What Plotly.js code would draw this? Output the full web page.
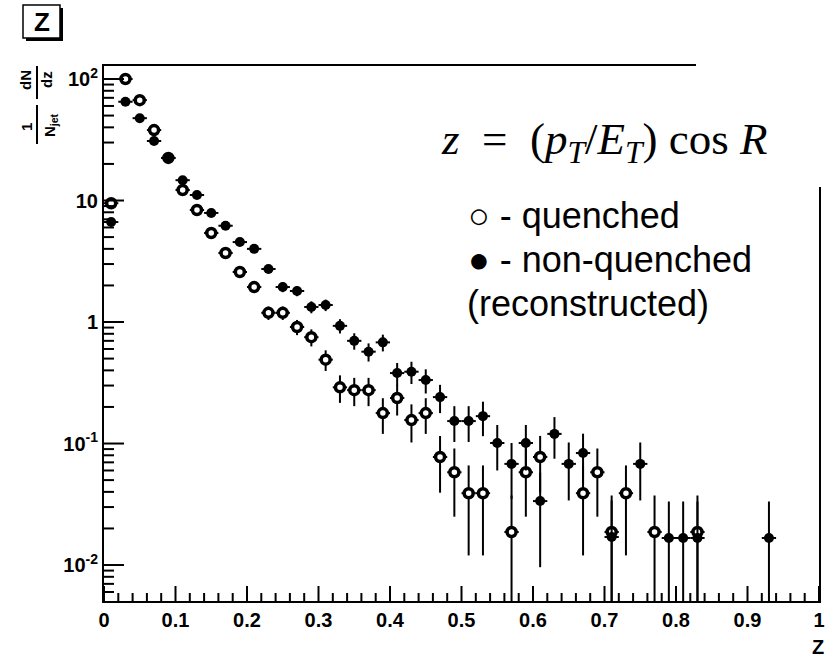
<!DOCTYPE html>
<html>
<head>
<meta charset="utf-8">
<script src="https://cdn.plot.ly/plotly-3.0.1.min.js"></script>
<style>html,body{margin:0;padding:0;background:#fff;}#chart{width:833px;height:658px;}</style>
</head>
<body>
<div id="chart"></div>
<script>
// ---- data (bin centres of z, value of 1/N dN/dz, error) ----
const quenchedZ   = [0.01,0.03,0.05,0.07,0.09,0.11,0.13,0.15,0.17,0.19,0.21,0.23,0.25,0.27,0.29,0.31,0.33,0.35,0.37,0.39,0.41,0.43,0.45,0.47,0.49,0.51,0.53,0.57,0.59,0.61,0.67,0.69,0.71,0.73,0.77,0.83];
const quenchedVal = [9.5,100,67,38,22.4,12.2,8.35,5.4,3.7,2.58,1.94,1.19,1.19,0.91,0.75,0.49,0.29,0.275,0.275,0.178,0.237,0.156,0.178,0.0774,0.058,0.039,0.039,0.0187,0.058,0.0775,0.039,0.058,0.0187,0.039,0.0187,0.0187];
const quenchedErr = [0.42,1.37,1.12,0.84,0.65,0.48,0.39,0.32,0.26,0.22,0.19,0.15,0.15,0.13,0.12,0.095,0.074,0.072,0.072,0.058,0.067,0.054,0.058,0.038,0.033,0.027,0.027,0.0187,0.033,0.038,0.027,0.033,0.0187,0.027,0.0187,0.0187];

const nonQuenchedZ   = [0.01,0.03,0.05,0.07,0.09,0.11,0.13,0.15,0.17,0.19,0.21,0.23,0.25,0.27,0.29,0.31,0.33,0.35,0.37,0.39,0.41,0.43,0.45,0.47,0.49,0.51,0.53,0.55,0.57,0.59,0.61,0.63,0.65,0.67,0.71,0.75,0.79,0.81,0.83,0.93];
const nonQuenchedVal = [6.65,65,47.6,30.9,22.4,14.7,11.1,7.9,6.2,4.55,4.0,2.73,1.94,1.80,1.33,1.38,0.93,0.70,0.57,0.68,0.38,0.39,0.333,0.241,0.153,0.153,0.168,0.101,0.068,0.101,0.0336,0.12,0.068,0.0835,0.017,0.068,0.0167,0.0167,0.0167,0.0167];
const nonQuenchedErr = [0.33,1.04,0.89,0.72,0.61,0.50,0.43,0.36,0.32,0.28,0.26,0.21,0.18,0.17,0.15,0.15,0.125,0.108,0.097,0.107,0.08,0.081,0.075,0.063,0.05,0.05,0.053,0.041,0.033,0.041,0.024,0.045,0.034,0.037,0.017,0.034,0.0167,0.0167,0.0167,0.0167];

const halfBin = 0.01;
const xTickVals = [0,0.1,0.2,0.3,0.4,0.5,0.6,0.7,0.8,0.9,1];
const xTickLabels = ['0','0.1','0.2','0.3','0.4','0.5','0.6','0.7','0.8','0.9','1'];
const yTickVals = [0.01,0.1,1,10,100];
const yTickText = ['10<sup>-2</sup>','10<sup>-1</sup>','1','10','10<sup>2</sup>'];

// ---- geometry of the plot area (pixels) ----
const W = 833, H = 658;
const M = {l:104, r:14, t:66, b:57};
const PW = W - M.l - M.r, PH = H - M.t - M.b;
const px = p => (p - M.l) / PW;          // pixel x -> paper x
const py = p => (M.t + PH - p) / PH;     // pixel y -> paper y

const yRange = [-2.296, 2.107];
const pxPerDecade = PH / (yRange[1] - yRange[0]);
const yBottom = Math.pow(10, yRange[0]);

// minor tick positions (axis decoration only)
const minorX = [];
for (let i = 1; i < 50; i++) if (i % 5 !== 0) minorX.push(i / 50);
const minorY = [];
for (let e = -3; e <= 2; e++) for (let d = 2; d <= 9; d++) {
  const v = d * Math.pow(10, e);
  if (Math.log10(v) > yRange[0] && Math.log10(v) < yRange[1]) minorY.push(v);
}

const errStyle = {color:'#000', thickness:2, width:0};
const tickFont = {family:'Liberation Sans, Arial, sans-serif', size:20, color:'#000', weight:'bold'};
const sans = 'Liberation Sans, Arial, sans-serif';

// inside tick marks of the frame, drawn as one-sided bars of L pixels
function xTicks(vals, L) {
  const pct = (Math.pow(10, L / pxPerDecade) - 1) * 100;
  return {x:vals, y:vals.map(() => yBottom), type:'scatter', mode:'markers', cliponaxis:false, showlegend:false, hoverinfo:'skip',
          marker:{size:1, opacity:0},
          error_y:{type:'percent', value:pct, valueminus:0, symmetric:false, visible:true, color:'#000', thickness:2, width:0}};
}
function yTicks(vals, L) {
  return {x:vals.map(() => 0), y:vals, type:'scatter', mode:'markers', cliponaxis:false, showlegend:false, hoverinfo:'skip',
          marker:{size:1, opacity:0},
          error_x:{type:'constant', value:L / PW, valueminus:0, symmetric:false, visible:true, color:'#000', thickness:2, width:0}};
}

const traces = [
  { // quenched: error bars and the white inside of the rings
    x: quenchedZ, y: quenchedVal, type:'scatter', mode:'markers', name:'quenched',
    marker:{symbol:'circle', size:8, color:'#fff', line:{width:0}},
    error_y:Object.assign({type:'data', array:quenchedErr, visible:true}, errStyle),
    error_x:Object.assign({type:'constant', value:halfBin, visible:true}, errStyle),
    showlegend:false, hoverinfo:'skip'
  },
  { // non-quenched (reconstructed): full dots
    x: nonQuenchedZ, y: nonQuenchedVal, type:'scatter', mode:'markers', name:'non-quenched',
    marker:{symbol:'circle', size:10, color:'#000', line:{width:0}},
    error_y:Object.assign({type:'data', array:nonQuenchedErr, visible:true}, errStyle),
    error_x:Object.assign({type:'constant', value:halfBin, visible:true}, errStyle),
    showlegend:false, hoverinfo:'x+y'
  },
  { // quenched: open rings on top
    x: quenchedZ, y: quenchedVal, type:'scatter', mode:'markers', name:'quenched',
    marker:{symbol:'circle-open', size:9, color:'#000', line:{width:3.5, color:'#000'}},
    showlegend:false, hoverinfo:'x+y'
  },
  xTicks(xTickVals, 15),
  xTicks(minorX, 8),
  yTicks(yTickVals, 20),
  yTicks(minorY, 10)
];

const layout = {
  width:W, height:H, margin:M,
  paper_bgcolor:'#fff', plot_bgcolor:'#fff',
  showlegend:false, dragmode:false, hovermode:false,
  xaxis:{
    range:[0,1], tickmode:'array', tickvals:xTickVals, ticktext:xTickLabels, ticks:'',
    showline:true, linewidth:2, linecolor:'#000', mirror:true,
    showgrid:false, zeroline:false, tickfont:tickFont, fixedrange:true
  },
  yaxis:{
    type:'log', range:yRange, tickmode:'array', tickvals:yTickVals, ticktext:yTickText, ticks:'',
    showline:true, linewidth:2, linecolor:'#000', mirror:true,
    showgrid:false, zeroline:false, tickfont:tickFont, fixedrange:true
  },
  shapes:[
    // white patches of the pasted formula box that hide part of the frame
    {type:'rect', xref:'paper', yref:'paper', x0:px(696), x1:px(840), y0:py(97), y1:py(45), fillcolor:'#fff', line:{width:0}, layer:'above'},
    {type:'rect', xref:'paper', yref:'paper', x0:px(413), x1:px(840), y0:py(187), y1:py(96), fillcolor:'#fff', line:{width:0}, layer:'above'},
    // title box with shadow
    {type:'rect', xref:'paper', yref:'paper', x0:px(26), x1:px(63), y0:py(41), y1:py(8), fillcolor:'#000', line:{width:0}, layer:'above'},
    {type:'rect', xref:'paper', yref:'paper', x0:px(23), x1:px(60), y0:py(38), y1:py(5), fillcolor:'#fff', line:{width:1.5, color:'#000'}, layer:'above'},
    // fraction bars of the y title
    {type:'line', xref:'paper', yref:'paper', x0:px(37), x1:px(37), y0:py(99), y1:py(66), line:{width:2, color:'#000'}, layer:'above'},
    {type:'line', xref:'paper', yref:'paper', x0:px(37), x1:px(37), y0:py(144), y1:py(105), line:{width:2, color:'#000'}, layer:'above'}
  ],
  annotations:[
    {text:'<b>Z</b>', xref:'paper', yref:'paper', x:px(41.5), y:py(22), showarrow:false, xanchor:'center', yanchor:'middle',
     font:{family:sans, size:26, color:'#000'}},
    {text:'<b>dN</b>', xref:'paper', yref:'paper', x:px(26), y:py(80), showarrow:false, textangle:-90, xanchor:'center', yanchor:'middle',
     font:{family:sans, size:15, color:'#000'}},
    {text:'<b>dz</b>', xref:'paper', yref:'paper', x:px(47), y:py(80), showarrow:false, textangle:-90, xanchor:'center', yanchor:'middle',
     font:{family:sans, size:15, color:'#000'}},
    {text:'<b>1</b>', xref:'paper', yref:'paper', x:px(26), y:py(127), showarrow:false, textangle:-90, xanchor:'center', yanchor:'middle',
     font:{family:sans, size:15, color:'#000'}},
    {text:'<b>N<sub>jet</sub></b>', xref:'paper', yref:'paper', x:px(50), y:py(125), showarrow:false, textangle:-90, xanchor:'center', yanchor:'middle',
     font:{family:sans, size:15, color:'#000'}},
    {text:'<b>Z</b>', xref:'paper', yref:'paper', x:px(818), y:py(647), showarrow:false, xanchor:'center', yanchor:'middle',
     font:{family:sans, size:20, color:'#000'}},
    {text:'<i>z</i>&nbsp; = &nbsp;(<i>p</i><sub><i>T</i></sub>/<i>E</i><sub><i>T</i></sub>)&nbsp;cos&nbsp;<i>R</i>', xref:'paper', yref:'paper', x:px(604), y:py(142), showarrow:false, xanchor:'center', yanchor:'middle',
     font:{family:'Liberation Serif, Times New Roman, serif', size:45, color:'#000'}},
    {text:'○ - quenched', xref:'paper', yref:'paper', x:px(466), y:py(215), showarrow:false, xanchor:'left', yanchor:'middle',
     font:{family:sans, size:36, color:'#000'}},
    {text:'● - non-quenched', xref:'paper', yref:'paper', x:px(466), y:py(259), showarrow:false, xanchor:'left', yanchor:'middle',
     font:{family:sans, size:36, color:'#000'}},
    {text:'(reconstructed)', xref:'paper', yref:'paper', x:px(465), y:py(303), showarrow:false, xanchor:'left', yanchor:'middle',
     font:{family:sans, size:36, color:'#000'}}
  ]
};

Plotly.newPlot('chart', traces, layout, {displayModeBar:false, responsive:false});
</script>
</body>
</html>
